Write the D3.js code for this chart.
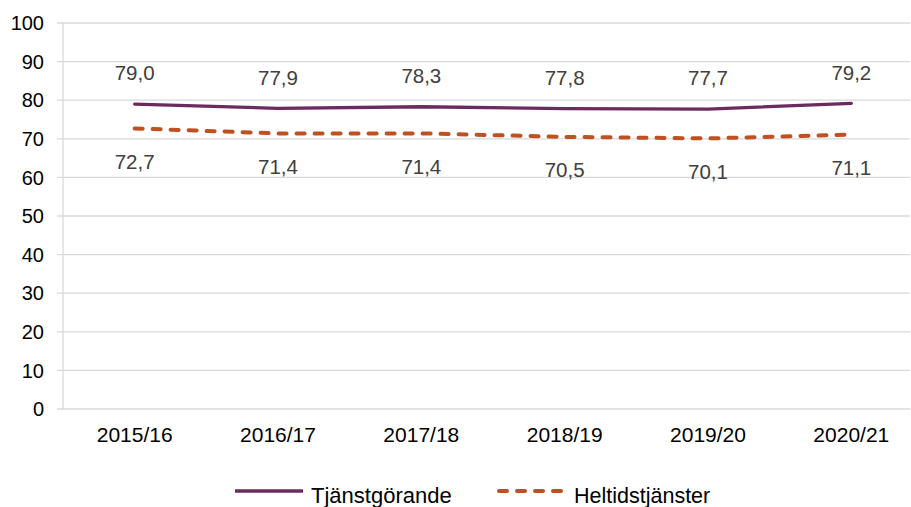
<!DOCTYPE html>
<html>
<head>
<meta charset="utf-8">
<script src="https://cdn.jsdelivr.net/npm/d3@7"></script>
<style>
  body { margin: 0; background: #fff; }
  svg { display: block; font-family: "Liberation Sans", Arial, sans-serif; }
</style>
</head>
<body>
<script>
// Chart data
const years = ["2015/16", "2016/17", "2017/18", "2018/19", "2019/20", "2020/21"];
const tjanstgorande = [79.0, 77.9, 78.3, 77.8, 77.7, 79.2];
const heltidstjanster = [72.7, 71.4, 71.4, 70.5, 70.1, 71.1];
const yTicks = [0, 10, 20, 30, 40, 50, 60, 70, 80, 90, 100];

const width = 911, height = 507;
const margin = {top: 23, right: -12, bottom: 98, left: 63};

const svg = d3.select("body").append("svg")
  .attr("width", width)
  .attr("height", height);

const x = d3.scalePoint()
  .domain(years)
  .range([margin.left, width - margin.right])
  .padding(0.5);

const y = d3.scaleLinear()
  .domain([0, 100])
  .range([height - margin.bottom, margin.top]);

// gridlines
svg.append("g")
  .selectAll("line")
  .data(yTicks)
  .join("line")
  .attr("x1", margin.left - 6)
  .attr("x2", 910)
  .attr("y1", d => y(d))
  .attr("y2", d => y(d))
  .attr("stroke", "#d9d9d9")
  .attr("stroke-width", 1.3);

// y axis line
svg.append("line")
  .attr("x1", margin.left).attr("x2", margin.left)
  .attr("y1", y(0)).attr("y2", y(100))
  .attr("stroke", "#d9d9d9")
  .attr("stroke-width", 1.3);

// y tick labels
svg.append("g")
  .selectAll("text")
  .data(yTicks)
  .join("text")
  .attr("x", margin.left - 19)
  .attr("y", d => y(d))
  .attr("dy", "0.36em")
  .attr("text-anchor", "end")
  .attr("font-size", 20)
  .attr("fill", "#000")
  .text(d => d);

// x tick labels
svg.append("g")
  .selectAll("text")
  .data(years)
  .join("text")
  .attr("x", d => x(d))
  .attr("y", y(0) + 33)
  .attr("text-anchor", "middle")
  .attr("font-size", 21)
  .attr("fill", "#000")
  .text(d => d);

const line = d3.line()
  .x((d, i) => x(years[i]))
  .y(d => y(d));

const purple = "#6b2b5e";
const orange = "#c0501f";

svg.append("path")
  .datum(tjanstgorande)
  .attr("d", line)
  .attr("fill", "none")
  .attr("stroke", purple)
  .attr("stroke-width", 3.3)
  .attr("stroke-linecap", "round");

svg.append("path")
  .datum(heltidstjanster)
  .attr("d", line)
  .attr("fill", "none")
  .attr("stroke", orange)
  .attr("stroke-width", 4)
  .attr("stroke-dasharray", "8,10")
  .attr("stroke-linecap", "round");

const fmt = v => v.toFixed(1).replace(".", ",");

// data labels
svg.append("g")
  .selectAll("text")
  .data(tjanstgorande)
  .join("text")
  .attr("x", (d, i) => x(years[i]))
  .attr("y", d => y(d) - 31)
  .attr("dy", "0.36em")
  .attr("text-anchor", "middle")
  .attr("font-size", 20.5)
  .attr("fill", "#404040")
  .text(fmt);

svg.append("g")
  .selectAll("text")
  .data(heltidstjanster)
  .join("text")
  .attr("x", (d, i) => x(years[i]))
  .attr("y", d => y(d) + 33)
  .attr("dy", "0.36em")
  .attr("text-anchor", "middle")
  .attr("font-size", 20.5)
  .attr("fill", "#404040")
  .text(fmt);

// legend
const legend = svg.append("g");
legend.append("line")
  .attr("x1", 235).attr("x2", 303)
  .attr("y1", 491).attr("y2", 491)
  .attr("stroke", purple).attr("stroke-width", 3.3);
legend.append("text")
  .attr("x", 311).attr("y", 503)
  .attr("font-size", 22).attr("fill", "#000")
  .text("Tjänstgörande");
legend.append("line")
  .attr("x1", 499).attr("x2", 564)
  .attr("y1", 491).attr("y2", 491)
  .attr("stroke", orange).attr("stroke-width", 4)
  .attr("stroke-dasharray", "8,10")
  .attr("stroke-linecap", "round");
legend.append("text")
  .attr("x", 574).attr("y", 503)
  .attr("font-size", 21.5).attr("fill", "#000")
  .text("Heltidstjänster");
</script>
</body>
</html>
